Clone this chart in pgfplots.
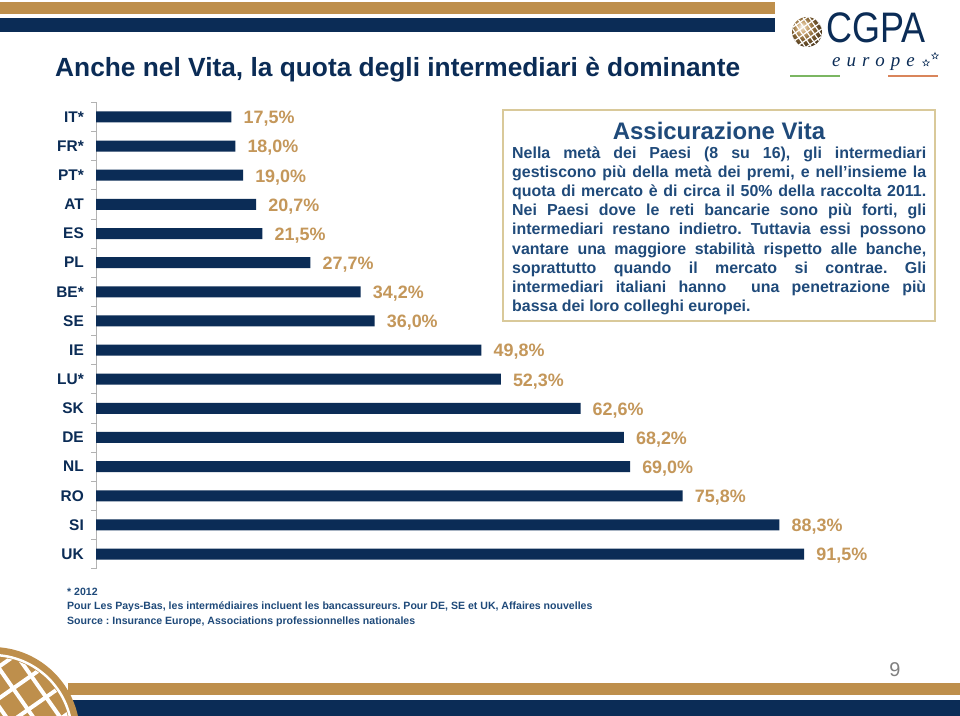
\documentclass[border=0pt]{standalone}
\usepackage{graphicx}
\usepackage{pgfplots}
\pgfplotsset{compat=1.18}
\usepackage{fontspec}
\setmainfont{Liberation Sans}
\newfontfamily\serifit{Liberation Serif}
\usetikzlibrary{shapes.geometric}
\definecolor{navy}{HTML}{0B2C56}
\definecolor{tanb}{HTML}{BE8F4C}
\definecolor{lbl}{HTML}{C4975A}
\definecolor{txtblue}{HTML}{1F4A7A}
\definecolor{boxb}{HTML}{D9C99A}
\definecolor{lgreen}{HTML}{7BB662}
\definecolor{lorange}{HTML}{D9855B}
\frenchspacing
\begin{document}
\begin{tikzpicture}[x=1bp,y=1bp]
\path[fill=white,use as bounding box] (0,0) rectangle (960,716);
% top bands
\fill[tanb] (0,714) rectangle (775,702);
\fill[navy] (0,698) rectangle (775,684);
% bottom bands
\fill[tanb] (68,33) rectangle (960,21);
\fill[navy] (72,16) rectangle (960,0);
% bottom-left globe
\begin{scope}
\clip (0,0) rectangle (960,716);
\fill[tanb] (-8,-19) circle (88);
\draw[white, line width=2.5] (-8,-19) circle (80);
\begin{scope}
\clip (-8,-19) circle (78);
\foreach \i in {-6,...,6} {
  \draw[white, line width=4, rotate around={35:(-8,-19)}] (-8+\i*22,-120) -- ++(0,220);
  \draw[white, line width=4, rotate around={-55:(-8,-19)}] (-8+\i*26,-120) -- ++(0,220);
}
\end{scope}
\end{scope}
% logo
\begin{scope}
\clip (807,684) circle (15);
\shade[ball color=tanb] (807,684) circle (15);
\foreach \i in {-3,...,3} {
  \draw[white, line width=1.2, rotate around={35:(807,684)}] (807+\i*5,664) -- ++(0,40);
  \draw[white, line width=1.2, rotate around={-55:(807,684)}] (807+\i*6,664) -- ++(0,40);
}
\end{scope}
\node[anchor=base west, inner sep=0, text=navy] at (826,673) {\scalebox{0.86}[1.02]{\fontsize{42}{42}\selectfont CGPA}};
\node[anchor=base west, inner sep=0, text=navy] at (832,649) {\serifit\itshape\fontsize{19}{20}\selectfont e\hspace{6bp}u\hspace{6bp}r\hspace{6bp}o\hspace{6bp}p\hspace{6bp}e};
\node[star, star points=5, star point ratio=2.3, draw=navy, minimum size=7bp, inner sep=0, line width=0.5] at (926,653) {};
\node[star, star points=5, star point ratio=2.3, draw=navy, minimum size=7bp, inner sep=0, line width=0.5] at (935,660) {};
\draw[lgreen, line width=1.5] (790,640) -- (840,640);
\draw[lorange, line width=1.5] (888,640) -- (938,640);
% title
\node[anchor=base west, inner sep=0, text=navy, font=\bfseries\fontsize{26.4}{30}\selectfont] at (55,639) {Anche nel Vita, la quota degli intermediari è dominante};
% text box
\draw[boxb, line width=1.5, fill=white] (503,606) rectangle (935,395);
\node[anchor=base, inner sep=0, text=txtblue, font=\bfseries\fontsize{24}{28}\selectfont] at (719,576) {Assicurazione Vita};
\node[anchor=north west, inner sep=0, text width=414bp, align=justify, text=txtblue, font=\bfseries\fontsize{16}{19.1}\selectfont] at (512,569) {Nella metà dei Paesi (8 su 16), gli intermediari\linebreak gestiscono più della metà dei premi, e nell’insieme la\linebreak quota di mercato è di circa il 50\% della raccolta 2011.\linebreak Nei Paesi dove le reti bancarie sono più forti, gli\linebreak intermediari restano indietro. Tuttavia essi possono\linebreak vantare una maggiore stabilità rispetto alle banche,\linebreak soprattutto quando il mercato si contrae. Gli\linebreak intermediari italiani hanno \ una penetrazione più\linebreak bassa dei loro colleghi europei.};
% footnotes
\node[anchor=base west, inner sep=0, text=txtblue, font=\bfseries\fontsize{10.6}{12}\selectfont] at (67,120) {* 2012};
\node[anchor=base west, inner sep=0, text=txtblue, font=\bfseries\fontsize{10.6}{12}\selectfont] at (67,106) {Pour Les Pays-Bas, les intermédiaires incluent les bancassureurs. Pour DE, SE et UK, Affaires nouvelles};
\node[anchor=base west, inner sep=0, text=txtblue, font=\bfseries\fontsize{10.6}{12}\selectfont] at (67,91) {Source : Insurance Europe, Associations professionnelles nationales};
% page number
\node[anchor=base, inner sep=0, text=gray, font=\fontsize{20}{24}\selectfont] at (895,39) {9};
% chart
\begin{axis}[
  at={(96bp,147.4bp)}, anchor=south west, scale only axis,
  width=774bp, height=466.2bp,
  xmin=0, xmax=100, ymin=-0.5, ymax=15.5, y dir=reverse,
  xbar, bar width=11bp,
  axis x line=none, axis y line*=left,
  y axis line style={draw=gray!60, line width=0.8},
  ytick={0,...,15},
  yticklabels={IT*,FR*,PT*,AT,ES,PL,BE*,SE,IE,LU*,SK,DE,NL,RO,SI,UK},
  major tick length=0pt,
  minor ytick={-0.5,0.5,...,15.5},
  minor tick length=5bp, tick align=outside,
  minor tick style={draw=gray!60, line width=0.8},
  yticklabel style={font=\bfseries\fontsize{15.5}{18}\selectfont, text=navy, inner sep=0pt, xshift=-12bp},
  /pgf/number format/.cd, fixed, fixed zerofill, precision=1, use comma, assume math mode=true,
]
\addplot[fill=navy, draw=none, point meta=x,
  nodes near coords={\pgfmathprintnumber{\pgfplotspointmeta}\%},
  every node near coord/.append style={font=\bfseries\fontsize{18}{20}\selectfont, text=lbl, anchor=west, inner sep=0pt, xshift=12bp, yshift=-2bp}]
coordinates {(17.5,0) (18.0,1) (19.0,2) (20.7,3) (21.5,4) (27.7,5) (34.2,6) (36.0,7) (49.8,8) (52.3,9) (62.6,10) (68.2,11) (69.0,12) (75.8,13) (88.3,14) (91.5,15)};
\end{axis}
\end{tikzpicture}
\end{document}
